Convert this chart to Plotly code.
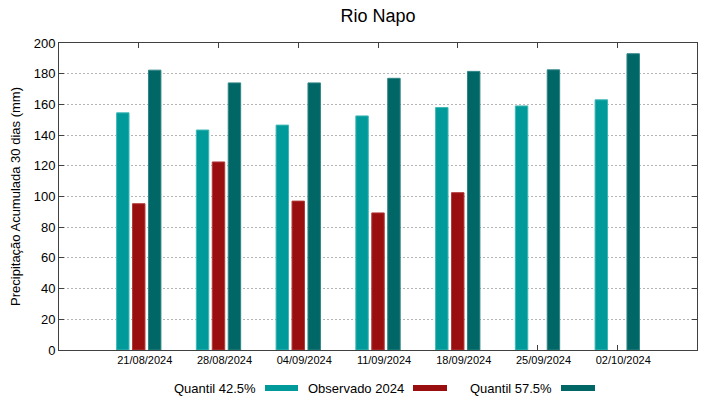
import plotly.graph_objects as go

categories = ["21/08/2024", "28/08/2024", "04/09/2024", "11/09/2024",
              "18/09/2024", "25/09/2024", "02/10/2024"]
quantil_425 = [154.5, 143.3, 146.5, 152.5, 158.0, 159.0, 163.0]
observado_2024 = [95.3, 122.5, 97.0, 89.3, 102.5, None, None]
quantil_575 = [182.3, 174.0, 174.0, 177.0, 181.5, 182.5, 193.0]

series_names = ["Quantil 42.5%", "Observado 2024", "Quantil 57.5%"]
series_colors = ["#009a9a", "#990f0f", "#006666"]
edge_colors = ["#40b8b8", "#b33a3a", "#2f8585"]

W, H = 719, 399
L, R, T, B = 59, 22, 43, 49
pw, ph = W - L - R, H - T - B

fig = go.Figure()
for name, vals, col, ec in zip(series_names,
                               [quantil_425, observado_2024, quantil_575],
                               series_colors, edge_colors):
    fig.add_trace(go.Bar(x=categories, y=vals, name=name,
                         marker=dict(color=col, line=dict(color=ec, width=1)),
                         showlegend=False))

axis_common = dict(showline=True, linecolor="#404040", linewidth=1,
                   mirror="ticks", ticks="inside", ticklen=5,
                   tickcolor="#404040", layer="below traces", zeroline=False)

fig.update_layout(
    width=W, height=H,
    margin=dict(l=L, r=R, t=T, b=B, autoexpand=False),
    paper_bgcolor="white", plot_bgcolor="white",
    font=dict(family="Liberation Sans, Arial, sans-serif", color="#000000"),
    barmode="group", bargap=0.4, bargroupgap=0.22,
    title=dict(text="Rio Napo", x=0.5, xref="paper", y=1 - 16 / H,
               yref="container", yanchor="middle", xanchor="center",
               font=dict(size=18)),
    xaxis=dict(type="category", range=[-1, 7], showgrid=False,
               tickfont=dict(size=11), ticklabelshift=6, **axis_common),
    yaxis=dict(range=[0, 200], dtick=20, showgrid=True, gridcolor="#b4b4b4",
               griddash="2px,2px", gridwidth=1, tickfont=dict(size=13),
               title=dict(text="Precipitação Acumulada 30 dias (mm)",
                          font=dict(size=13), standoff=10),
               **axis_common),
)

# custom legend: text followed by swatch (gnuplot style)
leg_y_px = 388
items = [(258, 265, 298), (406, 413, 447), (554, 561, 595)]
def px_x(px):
    return (px - L) / pw
def px_y(py):
    return (H - B - py) / ph
for (text_right, sw_l, sw_r), name, col in zip(items, series_names, series_colors):
    fig.add_annotation(text=name, x=px_x(text_right), y=px_y(leg_y_px),
                       xref="paper", yref="paper", xanchor="right",
                       yanchor="middle", showarrow=False,
                       font=dict(size=13))
    fig.add_shape(type="rect", xref="paper", yref="paper",
                  x0=px_x(sw_l), x1=px_x(sw_r),
                  y0=px_y(leg_y_px + 3), y1=px_y(leg_y_px - 3),
                  fillcolor=col, line=dict(width=0))

fig.write_html("out.html", config={"displayModeBar": False},
               post_script="document.body.style.margin='0';document.body.style.overflow='hidden';")
